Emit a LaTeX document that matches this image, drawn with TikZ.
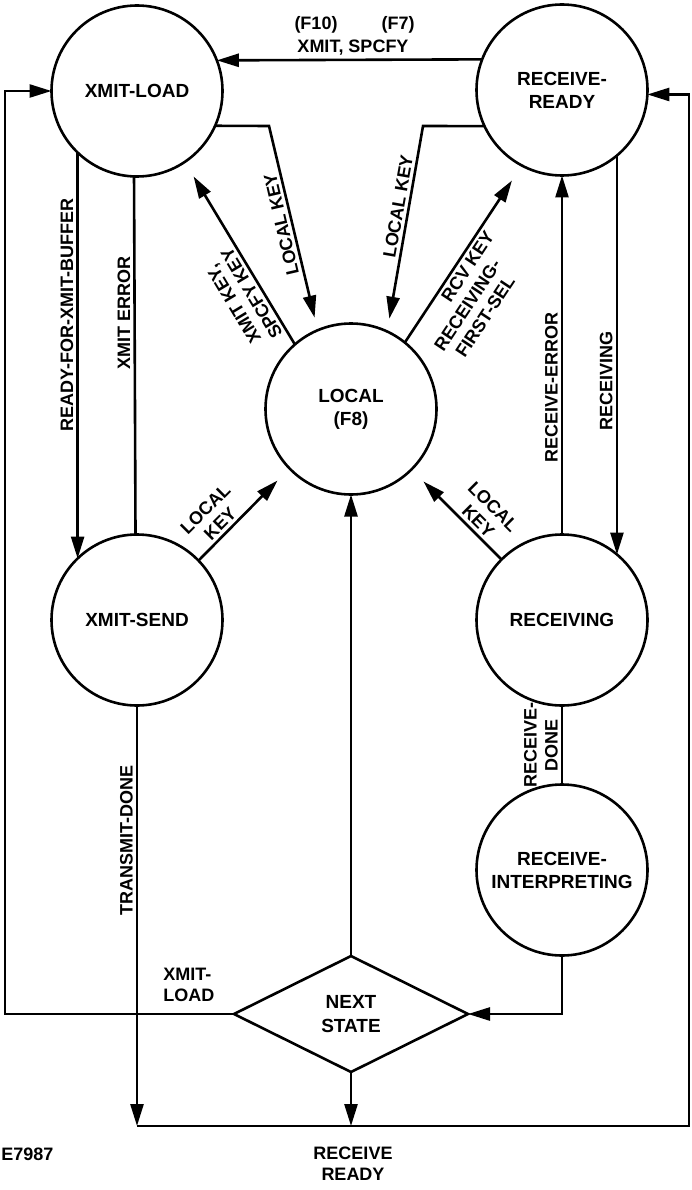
\documentclass[tikz,border=0pt]{standalone}
\usepackage{fontspec}
\setmainfont{Liberation Sans}
\usetikzlibrary{arrows.meta,shapes.geometric}
\begin{document}
\begin{tikzpicture}[x=1pt,y=-1pt,
  line width=2.6pt,
  every node/.style={font=\fontsize{18}{21}\selectfont\bfseries, inner sep=2pt},
  state/.style={circle, draw, minimum size=171pt, inner sep=0pt, outer sep=0pt, align=center, font=\fontsize{19}{23}\selectfont\bfseries},
  decision/.style={diamond, draw, minimum width=234pt, minimum height=116pt, inner sep=0pt, outer sep=0pt, align=center, font=\fontsize{19}{24}\selectfont\bfseries},
  arr/.style={-{Triangle[length=22pt,width=13pt]}},
  lab/.style={inner sep=3pt, align=center},
  vlab/.style={lab, rotate=90, anchor=south},
]
\useasboundingbox (0,0) rectangle (692,1190);

\node[state] (xl) at (137,91) {XMIT-LOAD};
\node[state] (rr) at (562,90) {RECEIVE-\\READY};
\node[state] (loc) at (351,409) {LOCAL\\(F8)};
\node[state] (xs) at (137,620) {XMIT-SEND};
\node[state] (rcv) at (562,620) {RECEIVING};
\node[state] (ri) at (562,870) {RECEIVE-\\INTERPRETING};
\node[decision] (ns) at (351,1014) {NEXT\\STATE};

\coordinate (b1) at (269,126);
\coordinate (b2) at (423,126);
\coordinate (tl) at (5,91);
\coordinate (bl) at (137,1126);
\coordinate (br) at (689,1126);

% top connector
\draw[arr] (rr.159) -- (xl.21.7);
\node[lab] (f10) at (316,25) {(F10)};
\node[lab] (f7) at (398,25) {(F7)};
\node[lab] (xsp) at (353,48) {XMIT, SPCFY};

% local keys from top states
\draw[arr, shorten >=13pt] (xl.-24) -- (b1) -- node[lab, pos=0.47, rotate=103, anchor=south]{LOCAL KEY} (loc.113);
\draw[arr, shorten >=13pt] (rr.205) -- (b2) -- node[lab, pos=0.4, rotate=80, anchor=south]{LOCAL KEY} (loc.65);

% keys from local
\draw[arr, shorten >=17pt] (loc.131) -- node[lab, pos=0.31, rotate=121, anchor=south]{XMIT KEY,\\SPCFY KEY} (xl.-56);
\draw[arr, shorten >=18pt] (loc.51) -- node[lab, pos=0.31, rotate=56.5, anchor=north]{\hspace*{64pt}RCV KEY\\RECEIVING-\\FIRST-SEL} (rr.242);

% left column
\draw[arr] (xl.226) -- node[vlab, pos=0.4]{READY-FOR-XMIT-BUFFER} (xs.134);
\draw (xl.268.6) -- node[vlab, pos=0.38]{XMIT ERROR} (xs.91.4);
\draw[arr] (xs.south) -- node[vlab, pos=0.32]{TRANSMIT-DONE} (bl);
\draw[arr, shorten >=17pt] (xs.44.5) -- node[lab, pos=0.32, rotate=45, anchor=south]{LOCAL\\KEY} (loc.224.5);

% right column
\draw[arr, shorten >=17pt] (rcv.135) -- node[lab, pos=0.34, rotate=-45, anchor=south]{LOCAL\\KEY} (loc.-45);
\draw[arr] (rcv.north) -- node[vlab, pos=0.41]{RECEIVE-ERROR} (rr.south);
\draw[arr] (rr.-50.5) -- node[vlab, pos=0.565]{RECEIVING} (rcv.50.5);
\draw (rcv.south) -- node[vlab, pos=0.5]{RECEIVE-\\DONE} (ri.north);
\draw[arr] (ri.south) |- (ns.east);

% next state
\draw[arr] (ns.north) -- (loc.south);
\draw[arr] (ns.west) -| (tl) -- (xl.west);
\node[lab, align=left, anchor=west] (xlab) at (159,985) {XMIT-\\LOAD};
\draw[arr] (ns.south) -- (ns.south |- bl);
\draw[arr] (bl) -- (br) |- (rr.-3.4);

\node[lab, anchor=west] (code) at (-3,1154) {E7987};
\node[lab] (rrlab) at (353,1164) {RECEIVE\\READY};
\end{tikzpicture}
\end{document}
